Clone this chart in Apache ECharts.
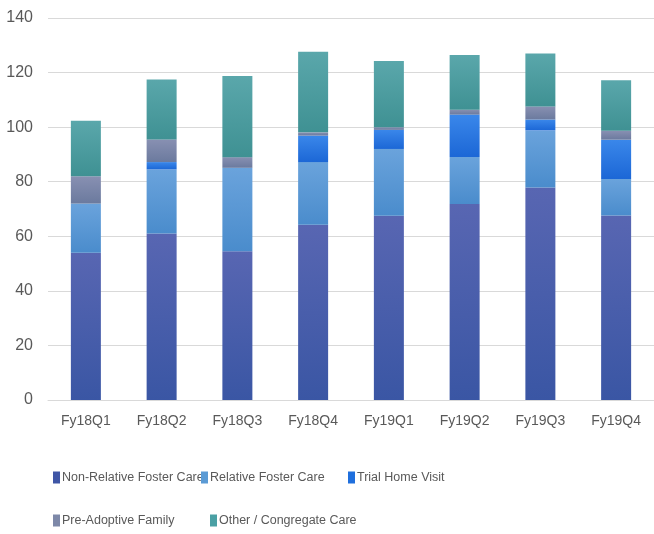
<!DOCTYPE html>
<html>
<head>
<meta charset="utf-8">
<script src="https://cdn.jsdelivr.net/npm/echarts@6/dist/echarts.min.js"></script>
<style>
html,body{margin:0;padding:0;background:#fff;}
#chart{width:654px;height:534px;}
</style>
</head>
<body>
<div id="chart"></div>
<script>
const categories = ['Fy18Q1','Fy18Q2','Fy18Q3','Fy18Q4','Fy19Q1','Fy19Q2','Fy19Q3','Fy19Q4'];
const nonRelative = [54, 61, 54.5, 64.2, 67.5, 71.8, 77.9, 67.6];
const relative    = [18, 23.5, 30.6, 23, 24.5, 17.3, 20.9, 13.4];
const trialHome   = [0, 2.7, 0, 9.7, 7, 15.5, 4, 14.4];
const preAdoptive = [10, 8.3, 3.9, 1.2, 1, 1.8, 4.8, 3.3];
const other       = [20.3, 22, 29.7, 29.5, 24.2, 20, 19.4, 18.5];
const yTicks = [0, 20, 40, 60, 80, 100, 120, 140];

const names = ['Non-Relative Foster Care','Relative Foster Care','Trial Home Visit','Pre-Adoptive Family','Other / Congregate Care'];
const values = [nonRelative, relative, trialHome, preAdoptive, other];
const grads = [
  ['#5866b2','#3a56a4'],
  ['#6aa3dc','#4a8ccc'],
  ['#3a87ea','#1c67d6'],
  ['#8890b2','#6b7a9e'],
  ['#5aa7ab','#3f9193']
];
const legendColors = ['#3f56a6','#5b9bd5','#1f6fdd','#7d88a8','#4aa0a4'];
const FONT = '"Liberation Sans", Arial, sans-serif';

const chart = echarts.init(document.getElementById('chart'));
const series = names.map((n, i) => ({
  name: n,
  type: 'bar',
  stack: 'total',
  barWidth: 30,
  data: values[i],
  itemStyle: {
    color: new echarts.graphic.LinearGradient(0, 0, 0, 1, [
      {offset: 0, color: grads[i][0]},
      {offset: 1, color: grads[i][1]}
    ])
  }
}));

const legendPos = [
  {left: 48, top: 466},
  {left: 196, top: 466},
  {left: 343, top: 466},
  {left: 48, top: 509},
  {left: 205, top: 509}
];
const legends = names.map((n, i) => ({
  data: [{name: n, itemStyle: {color: legendColors[i]}}],
  left: legendPos[i].left,
  top: legendPos[i].top,
  itemWidth: 7,
  itemHeight: 12,
  itemGap: 0,
  icon: 'rect',
  selectedMode: false,
  textStyle: {fontFamily: FONT, fontSize: 12.5, color: '#595959', padding: [0,0,0,-3]}
}));

chart.setOption({
  animation: false,
  backgroundColor: '#fff',
  grid: {left: 48, top: 18, width: 609, height: 382, containLabel: false},
  legend: legends,
  xAxis: {
    type: 'category',
    data: categories,
    axisLine: {lineStyle: {color: '#d9d9d9', width: 1}},
    axisTick: {show: false},
    axisLabel: {interval: 0, fontFamily: FONT, fontSize: 14, color: '#595959', margin: 14}
  },
  yAxis: {
    type: 'value',
    min: yTicks[0],
    max: yTicks[yTicks.length - 1],
    interval: 20,
    axisLine: {show: false},
    axisTick: {show: false},
    splitLine: {lineStyle: {color: '#d9d9d9', width: 1}},
    axisLabel: {fontFamily: FONT, fontSize: 16, color: '#595959', margin: 15}
  },
  series: series
});
</script>
</body>
</html>
